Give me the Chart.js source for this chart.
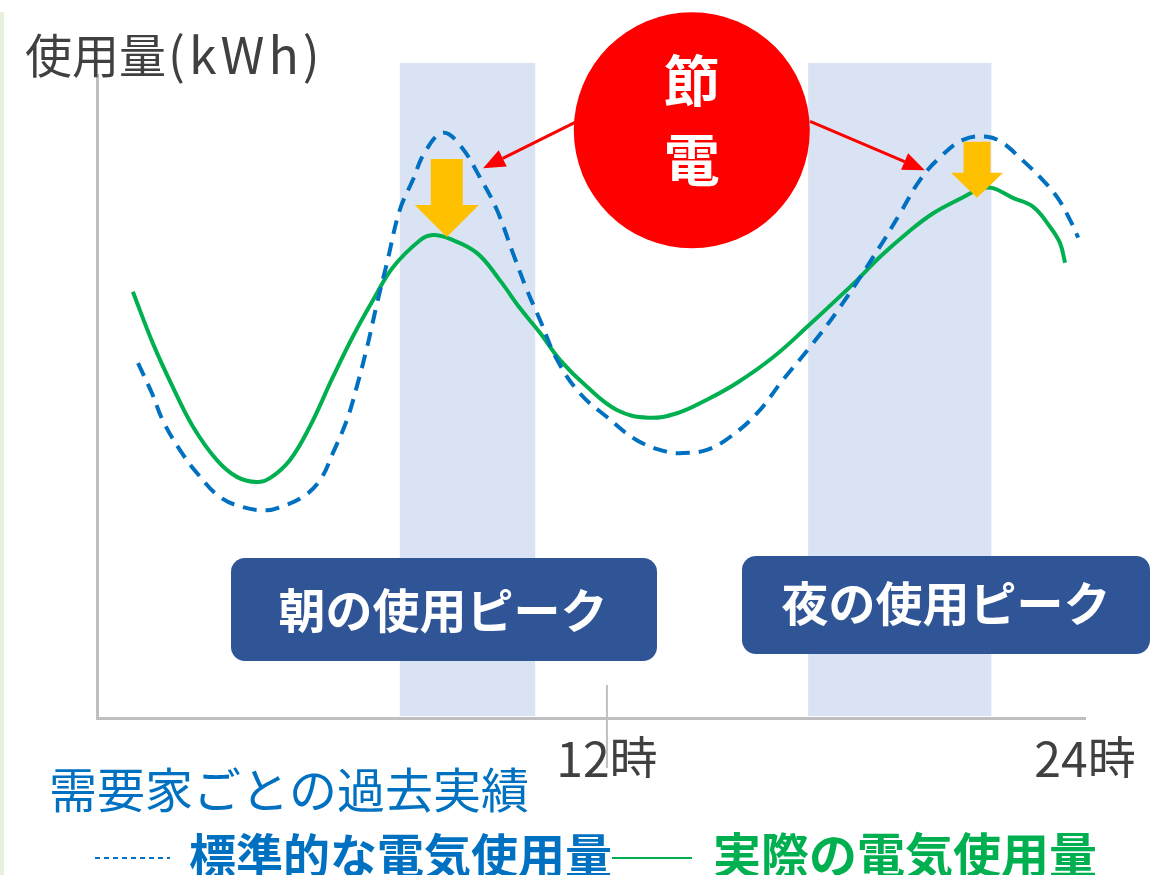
<!DOCTYPE html>
<html lang="ja">
<head>
<meta charset="utf-8">
<title>節電 使用量</title>
<script src="https://cdn.jsdelivr.net/npm/chart.js@4.4.1/dist/chart.umd.min.js"></script>
<style>
  body { margin: 0; background: #fff; }
  #wrap { width: 1165px; height: 875px; position: relative; }
</style>
</head>
<body>
<div id="wrap"><canvas id="usageChart"></canvas></div>
<script>
const FONT = '"Noto Sans CJK JP", "Noto Sans", sans-serif';

// Standard (past) usage - dashed blue
const standardHours = [0.23, 0.58, 0.85, 1.28, 1.71, 2.28, 2.86, 3.46, 3.79, 4.37, 4.80, 5.12, 5.47, 5.72, 5.98, 6.23, 6.48, 6.80, 7.13, 7.43, 7.88, 8.31, 8.81, 9.24, 9.64, 9.99, 10.32, 10.75, 11.32, 12.00, 12.75, 13.51, 13.91, 14.51, 15.09, 15.77, 16.42, 17.10, 17.85, 18.85, 19.36, 19.86, 20.36, 20.94, 21.54, 21.94, 22.37, 22.87, 23.30, 23.63, 23.83];
const standardUsage = [55.2, 50.5, 46.3, 41.7, 38.1, 34.4, 32.8, 32.3, 32.8, 34.4, 37.0, 41.2, 46.3, 51.5, 57.7, 64.5, 70.8, 79.0, 83.7, 88.0, 91.0, 89.1, 84.1, 79.0, 72.3, 66.6, 61.9, 55.7, 50.5, 46.8, 43.2, 41.4, 41.2, 41.7, 43.7, 47.4, 52.6, 57.7, 63.9, 73.3, 78.5, 83.7, 87.2, 89.9, 90.4, 89.4, 87.1, 84.1, 81.0, 77.4, 74.7];

// Actual usage - solid green
const actualHours = [0.10, 0.60, 1.10, 1.61, 2.21, 2.71, 3.21, 3.54, 4.04, 4.54, 5.12, 5.62, 6.13, 6.63, 7.31, 7.63, 8.06, 8.74, 9.31, 9.81, 10.32, 10.82, 11.50, 12.25, 13.03, 13.76, 14.51, 15.26, 16.17, 17.02, 18.28, 18.85, 19.53, 20.19, 20.94, 21.37, 21.69, 22.19, 22.70, 23.12, 23.37, 23.50];
const actualUsage = [66.3, 58.3, 51.5, 45.3, 40.1, 37.5, 36.7, 37.3, 40.1, 45.3, 53.0, 59.3, 65.0, 70.1, 74.3, 75.1, 74.5, 72.3, 68.1, 63.8, 59.9, 55.7, 51.5, 47.9, 46.7, 47.4, 49.5, 52.1, 56.1, 60.8, 68.1, 71.7, 75.4, 78.5, 81.0, 82.3, 82.4, 80.9, 79.5, 76.4, 73.9, 70.8];

const tickHours = [12, 24];
const peakBands = [[6.8, 10.2], [17.05, 21.65]];
const peakLabels = ['朝の使用ピーク', '夜の使用ピーク'];
const seriesLabels = ['標準的な電気使用量', '実際の電気使用量'];

// Annotation anchors (hours, usage)
const savingArrowTips = [[7.98, 74.8], [21.29, 80.9]];
const savingCircle = [14.13, 91.4];
const pointerFrom = [[11.25, 92.8], [17.10, 92.8]];
const pointerTo = [[8.89, 85.5], [19.98, 85.2]];

const BLUE = '#0070c0';
const GREEN = '#00b050';
const AXIS = '#bfbfbf';

const toPts = (xs, ys) => xs.map((x, i) => ({ x: x, y: ys[i] }));

function downArrow(ctx, x, tipY, shaftW, headW, totalH, headH) {
  ctx.beginPath();
  ctx.moveTo(x - shaftW / 2, tipY - totalH);
  ctx.lineTo(x + shaftW / 2, tipY - totalH);
  ctx.lineTo(x + shaftW / 2, tipY - headH);
  ctx.lineTo(x + headW / 2, tipY - headH);
  ctx.lineTo(x, tipY);
  ctx.lineTo(x - headW / 2, tipY - headH);
  ctx.lineTo(x - shaftW / 2, tipY - headH);
  ctx.closePath();
  ctx.fill();
}

function pointer(ctx, x1, y1, x2, y2) {
  const a = Math.atan2(y2 - y1, x2 - x1);
  const len = 22, half = 9;
  const bx = x2 - Math.cos(a) * len, by = y2 - Math.sin(a) * len;
  ctx.beginPath();
  ctx.moveTo(x1, y1);
  ctx.lineTo(bx, by);
  ctx.stroke();
  ctx.beginPath();
  ctx.moveTo(x2, y2);
  ctx.lineTo(bx - Math.sin(a) * half, by + Math.cos(a) * half);
  ctx.lineTo(bx + Math.sin(a) * half, by - Math.cos(a) * half);
  ctx.closePath();
  ctx.fill();
}

function roundBox(ctx, x, y, w, h, r) {
  ctx.beginPath();
  ctx.roundRect(x, y, w, h, r);
  ctx.fill();
}

const decorations = {
  id: 'decorations',
  beforeDraw(chart) {
    const { ctx, chartArea, scales: { x, y } } = chart;
    ctx.save();
    // thin green strip at the left edge
    ctx.fillStyle = '#e6f0de';
    ctx.fillRect(0, 12, 4, chart.height - 12);
    // peak bands
    ctx.fillStyle = '#dae3f3';
    peakBands.forEach(b => {
      const l = x.getPixelForValue(b[0]), r = x.getPixelForValue(b[1]);
      ctx.fillRect(l, chartArea.top - 12, r - l, chartArea.bottom - chartArea.top + 10);
    });
    // tick mark at noon
    const nx = x.getPixelForValue(12);
    ctx.strokeStyle = AXIS;
    ctx.lineWidth = 2;
    ctx.beginPath();
    ctx.moveTo(nx, chartArea.bottom - 33);
    ctx.lineTo(nx, chartArea.bottom + 50);
    ctx.stroke();
    ctx.restore();
  },
  afterDatasetsDraw(chart) {
    const { ctx, scales: { x, y } } = chart;
    ctx.save();
    // peak label boxes
    const boxes = [[231, 558, 426, 103, 443, 610], [742, 556, 408, 98, 946, 603]];
    boxes.forEach((b, i) => {
      ctx.fillStyle = '#2f5597';
      roundBox(ctx, b[0], b[1], b[2], b[3], 14);
      ctx.fillStyle = '#ffffff';
      ctx.font = 'bold 47px ' + FONT;
      ctx.textAlign = 'center';
      ctx.textBaseline = 'middle';
      ctx.fillText(peakLabels[i], b[4], b[5]);
    });
    // orange saving arrows
    ctx.fillStyle = '#ffc000';
    const arrowSizes = [[32, 64, 78, 32], [27, 52, 56, 25]];
    savingArrowTips.forEach((t, i) => {
      const s = arrowSizes[i];
      downArrow(ctx, x.getPixelForValue(t[0]), y.getPixelForValue(t[1]), s[0], s[1], s[2], s[3]);
    });
    // red pointers
    ctx.strokeStyle = '#ff0000';
    ctx.fillStyle = '#ff0000';
    ctx.lineWidth = 3;
    pointerFrom.forEach((f, i) => {
      pointer(ctx, x.getPixelForValue(f[0]), y.getPixelForValue(f[1]),
        x.getPixelForValue(pointerTo[i][0]), y.getPixelForValue(pointerTo[i][1]));
    });
    // red circle
    const cx = x.getPixelForValue(savingCircle[0]), cy = y.getPixelForValue(savingCircle[1]);
    ctx.beginPath();
    ctx.arc(cx, cy, 118, 0, Math.PI * 2);
    ctx.fill();
    ctx.fillStyle = '#ffffff';
    ctx.font = 'bold 56px ' + FONT;
    ctx.textAlign = 'center';
    ctx.textBaseline = 'middle';
    ctx.fillText('節', cx, cy - 50);
    ctx.fillText('電', cx, cy + 29);
    ctx.restore();
  },
  afterDraw(chart) {
    const { ctx } = chart;
    ctx.save();
    ctx.textBaseline = 'middle';
    ctx.textAlign = 'left';
    // y axis title: CJK part then the unit, slightly spaced
    ctx.fillStyle = '#404040';
    ctx.font = '47px ' + FONT;
    ctx.fillText('使用量', 25, 55);
    const w = ctx.measureText('使用量').width;
    ctx.font = '50px ' + FONT;
    ctx.letterSpacing = '4px';
    ctx.fillText('(kWh)', 27 + w, 55);
    ctx.letterSpacing = '0px';
    // caption
    ctx.fillStyle = BLUE;
    ctx.font = '48px ' + FONT;
    ctx.fillText('需要家ごとの過去実績', 49, 790);
    // legend
    ctx.lineWidth = 2;
    ctx.strokeStyle = BLUE;
    ctx.setLineDash([5, 4]);
    ctx.beginPath();
    ctx.moveTo(95, 858);
    ctx.lineTo(170, 858);
    ctx.stroke();
    ctx.setLineDash([]);
    ctx.font = 'bold 47px ' + FONT;
    ctx.fillText(seriesLabels[0], 189, 855);
    ctx.strokeStyle = GREEN;
    ctx.beginPath();
    ctx.moveTo(612, 858);
    ctx.lineTo(692, 858);
    ctx.stroke();
    ctx.fillStyle = GREEN;
    ctx.font = 'bold 48px ' + FONT;
    ctx.fillText(seriesLabels[1], 713, 855);
    ctx.restore();
  }
};

new Chart(document.getElementById('usageChart'), {
  type: 'line',
  data: {
    datasets: [
      {
        label: seriesLabels[0],
        data: toPts(standardHours, standardUsage),
        borderColor: BLUE,
        borderWidth: 4,
        borderDash: [14, 9],
        pointRadius: 0,
        tension: 0.4,
        fill: false
      },
      {
        label: seriesLabels[1],
        data: toPts(actualHours, actualUsage),
        borderColor: GREEN,
        borderWidth: 4,
        pointRadius: 0,
        tension: 0.4,
        fill: false
      }
    ]
  },
  options: {
    responsive: true,
    maintainAspectRatio: false,
    animation: false,
    layout: { padding: { left: 97, right: 80, top: 75, bottom: 97 } },
    plugins: { legend: { display: false }, tooltip: { enabled: false } },
    scales: {
      x: {
        type: 'linear',
        min: -0.8,
        max: 24,
        grid: { display: false, drawTicks: false },
        border: { display: true, color: AXIS, width: 3 },
        afterBuildTicks: s => { s.ticks = tickHours.map(v => ({ value: v })); },
        afterFit: s => { s.height = 60; },
        ticks: {
          autoSkip: false,
          maxRotation: 0,
          padding: 12,
          color: '#404040',
          font: { family: FONT, size: 48 },
          callback: v => v + '時'
        }
      },
      y: {
        min: 0,
        max: 100,
        grid: { display: false, drawTicks: false },
        border: { display: true, color: AXIS, width: 3 },
        ticks: { display: false },
        afterFit: s => { s.width = 0; }
      }
    }
  },
  plugins: [decorations]
});
</script>
</body>
</html>
